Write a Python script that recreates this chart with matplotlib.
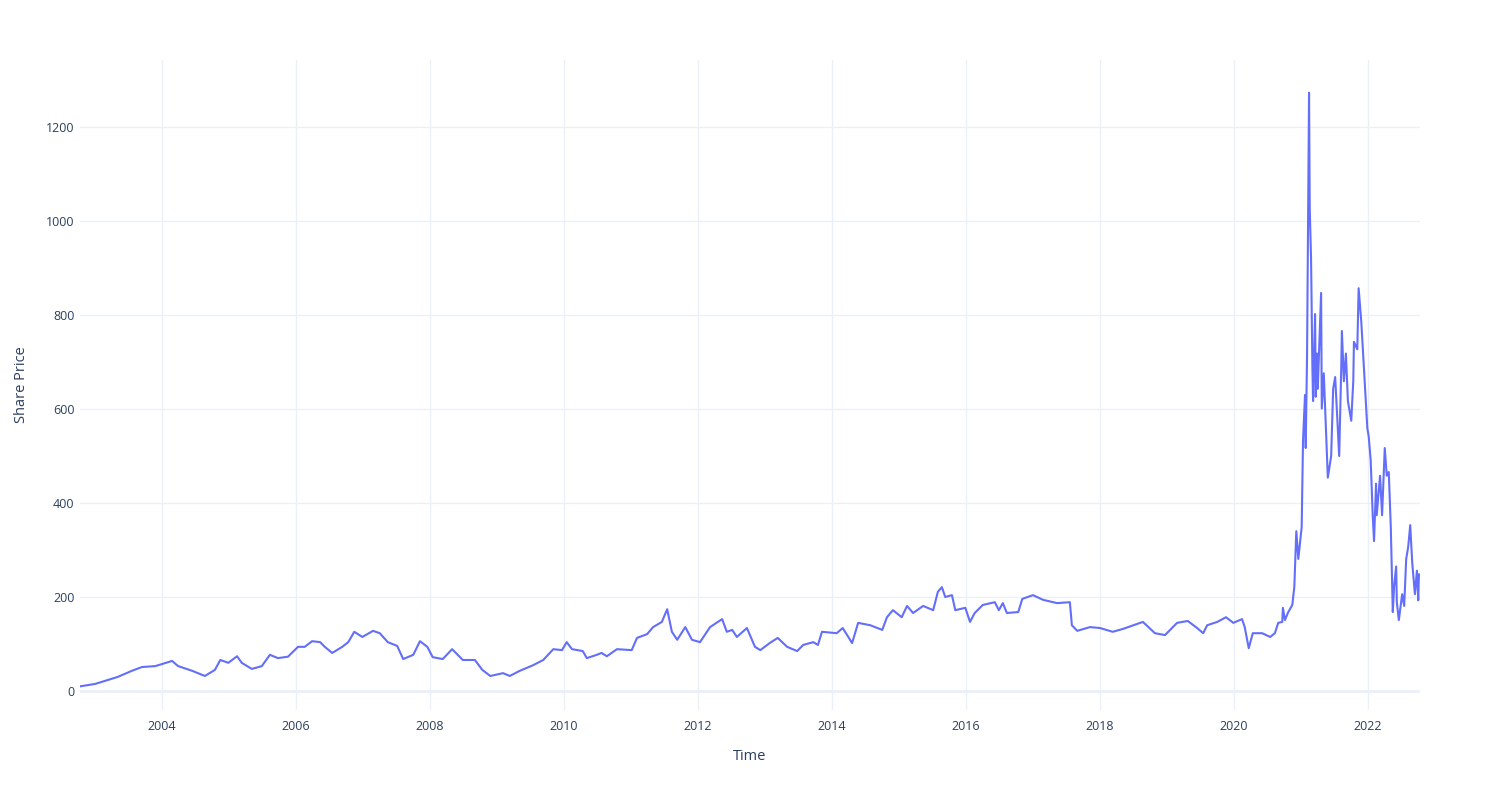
import matplotlib
matplotlib.use("Agg")
import matplotlib.pyplot as plt

# share price (decimal year, price)
years = [
    2002.78, 2003.00, 2003.34, 2003.55, 2003.70, 2003.90, 2004.15, 2004.24, 2004.45, 2004.64,
    2004.79, 2004.87, 2004.99, 2005.12, 2005.19, 2005.34, 2005.49, 2005.61, 2005.73, 2005.88,
    2006.03, 2006.13, 2006.24, 2006.36, 2006.43, 2006.54, 2006.69, 2006.78, 2006.87, 2006.99,
    2007.15, 2007.25, 2007.37, 2007.51, 2007.60, 2007.75, 2007.85, 2007.96, 2008.04, 2008.19,
    2008.33, 2008.49, 2008.67, 2008.78, 2008.90, 2009.09, 2009.19, 2009.34, 2009.54, 2009.69,
    2009.84, 2009.97, 2010.04, 2010.12, 2010.28, 2010.34, 2010.49, 2010.56, 2010.64, 2010.79,
    2011.01, 2011.09, 2011.24, 2011.33, 2011.46, 2011.54, 2011.61, 2011.69, 2011.81, 2011.91,
    2012.03, 2012.18, 2012.36, 2012.43, 2012.51, 2012.58, 2012.73, 2012.85, 2012.93, 2013.07,
    2013.19, 2013.33, 2013.48, 2013.57, 2013.72, 2013.79, 2013.85, 2014.07, 2014.16, 2014.30,
    2014.39, 2014.57, 2014.75, 2014.82, 2014.91, 2015.04, 2015.12, 2015.21, 2015.36, 2015.51,
    2015.58, 2015.64, 2015.69, 2015.79, 2015.84, 2015.99, 2016.06, 2016.13, 2016.25, 2016.43,
    2016.49, 2016.55, 2016.61, 2016.78, 2016.84, 2017.00, 2017.15, 2017.36, 2017.55, 2017.58,
    2017.66, 2017.85, 2018.00, 2018.19, 2018.34, 2018.64, 2018.82, 2018.97, 2019.15, 2019.31,
    2019.45, 2019.54, 2019.60, 2019.75, 2019.88, 2019.99, 2020.12, 2020.16, 2020.22, 2020.28,
    2020.42, 2020.54, 2020.61, 2020.66, 2020.72, 2020.73, 2020.76, 2020.81, 2020.87, 2020.90,
    2020.93, 2020.96, 2021.01, 2021.03, 2021.06, 2021.07, 2021.09, 2021.12, 2021.13, 2021.15,
    2021.17, 2021.18, 2021.21, 2021.22, 2021.24, 2021.25, 2021.30, 2021.31, 2021.34, 2021.39,
    2021.40, 2021.45, 2021.48, 2021.51, 2021.54, 2021.57, 2021.60, 2021.61, 2021.64, 2021.67,
    2021.70, 2021.75, 2021.78, 2021.79, 2021.84, 2021.86, 2021.90, 2021.93, 2021.96, 2021.99,
    2022.01, 2022.04, 2022.07, 2022.09, 2022.12, 2022.13, 2022.18, 2022.21, 2022.25, 2022.28,
    2022.31, 2022.34, 2022.37, 2022.39, 2022.42, 2022.43, 2022.46, 2022.51, 2022.54, 2022.57,
    2022.60, 2022.63, 2022.66, 2022.70, 2022.73, 2022.75, 2022.76,
]
prices = [
    10, 15, 30, 43, 51, 53, 64, 53, 43, 32,
    45, 66, 60, 74, 60, 47, 53, 77, 70, 73,
    94, 94, 106, 104, 94, 81, 94, 104, 126, 115,
    128, 123, 104, 96, 68, 77, 106, 94, 72, 68,
    89, 66, 66, 45, 32, 38, 32, 43, 55, 66,
    89, 87, 104, 89, 85, 70, 77, 81, 74, 89,
    87, 113, 121, 136, 147, 174, 126, 109, 136, 109,
    104, 136, 153, 126, 130, 115, 134, 94, 87, 102,
    113, 94, 85, 98, 104, 98, 126, 123, 134, 102,
    145, 140, 130, 157, 172, 157, 181, 166, 181, 172,
    211, 221, 200, 204, 172, 177, 147, 166, 183, 189,
    172, 187, 166, 168, 196, 204, 194, 187, 189, 140,
    128, 136, 134, 126, 132, 147, 123, 119, 145, 149,
    134, 123, 140, 147, 157, 145, 153, 136, 91, 123,
    123, 115, 123, 145, 147, 177, 151, 168, 183, 221,
    340, 281, 349, 533, 630, 517, 710, 1273, 1029, 920,
    689, 617, 802, 626, 718, 643, 847, 601, 676, 487,
    454, 500, 643, 668, 584, 500, 685, 766, 659, 718,
    617, 575, 659, 743, 727, 857, 785, 710, 634, 559,
    542, 491, 374, 319, 441, 374, 458, 374, 517, 458,
    466, 349, 168, 223, 265, 189, 151, 206, 181, 281,
    307, 353, 273, 206, 256, 193, 248,
]

year_ticks = [2004, 2006, 2008, 2010, 2012, 2014, 2016, 2018, 2020, 2022]
price_ticks = [0, 200, 400, 600, 800, 1000, 1200]

plt.rcParams["font.family"] = ["Open Sans", "DejaVu Sans"]
fig = plt.figure(figsize=(15, 8), dpi=100)
ax = fig.add_axes([80 / 1500, 1 - 710 / 800, 1340 / 1500, 650 / 800])

grid_c = "#EBF0F8"
text_c = "#2a3f5f"

ax.plot(years, prices, color="#636efa", linewidth=1.5, zorder=3)

ax.set_xlim(2002.776, 2022.776)
ax.set_ylim(-40.4, 1342.6)
ax.set_xticks(year_ticks)
ax.set_xticklabels([str(y) for y in year_ticks])
ax.set_yticks(price_ticks)
ax.grid(True, color=grid_c, linewidth=1, zorder=0)
ax.axhline(0, color=grid_c, linewidth=2, zorder=1)
for s in ax.spines.values():
    s.set_visible(False)
ax.tick_params(length=0, labelsize=9, labelcolor=text_c)
ax.tick_params(axis="x", pad=7)
ax.tick_params(axis="y", pad=4)

ax.set_xlabel("Time", fontsize=10.5, color=text_c, labelpad=12)
ax.set_ylabel("Share Price", fontsize=10.5, color=text_c, labelpad=12)

fig.savefig("out.png", dpi=100)
